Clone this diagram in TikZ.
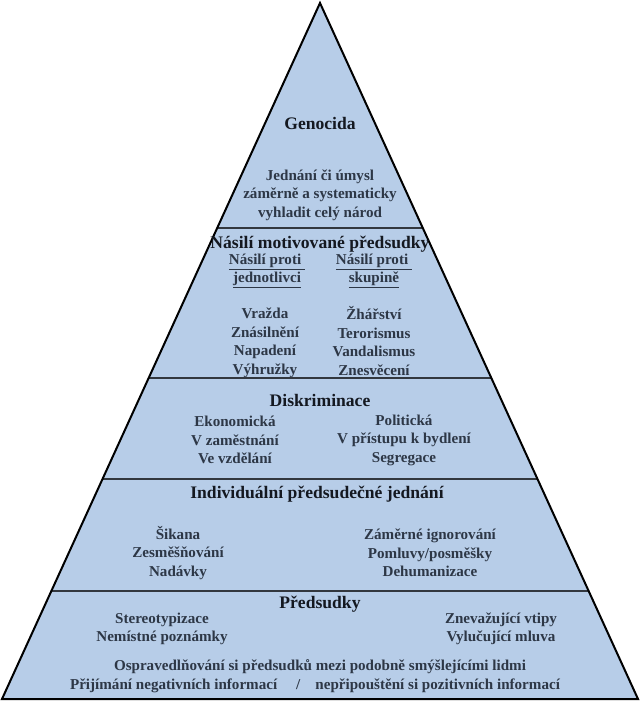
\documentclass[tikz,border=0pt]{standalone}
\usepackage{fontspec}
\setmainfont{Liberation Serif}
\definecolor{pyrfill}{RGB}{183,205,232}
\definecolor{bodytxt}{RGB}{45,55,70}
\definecolor{headtxt}{RGB}{20,24,32}
\definecolor{divline}{RGB}{50,55,62}
\begin{document}
\begin{tikzpicture}[x=1pt,y=-1pt,
  body/.style={font=\bfseries\fontsize{15.1}{18.5}\selectfont,text=bodytxt,align=center,inner sep=0pt},
  head/.style={font=\bfseries\fontsize{17.6}{19}\selectfont,text=headtxt,align=center,inner sep=0pt},
  divider/.style={draw=divline,line width=1.4pt}]
\useasboundingbox (0,0) rectangle (640,713);
\fill[white] (0,0) rectangle (640,713);
% pyramid
\coordinate (apex) at (320,3);
\coordinate (bl) at (2,699);
\coordinate (br) at (638,699);
\fill[pyrfill] (apex) -- (bl) -- (br) -- cycle;
% dividers (x on the edges: x = 320 -/+ 0.4569*(y-3))
\draw[divider] (217.2,228) -- (422.8,228);
\draw[divider] (148.7,378) -- (491.3,378);
\draw[divider] (102.5,479) -- (537.5,479);
\draw[divider] (51.3,591) -- (588.7,591);
\draw[line width=2pt,line join=miter] (apex) -- (bl) -- (br) -- cycle;
% Genocida
\node[head] (gen) at (320,123) {Genocida};
\node[body] (gentxt) at (320,195) {Jednání či úmysl\\záměrně a systematicky\\vyhladit celý národ};
% Nasili
\node[head] (nas) at (320,244) {Násilí motivované předsudky};
\node[body] (nasl) at (267,271) {\underline{Násilí proti }\\\underline{jednotlivci}};
\node[body] (nasr) at (374,271) {\underline{Násilí proti }\\\underline{skupině}};
\node[body] (nasll) at (265,343) {Vražda\\Znásilnění\\Napadení\\Výhružky};
\node[body] (naslr) at (374,341) {Žhářství\\Terorismus\\Vandalismus\\Znesvěcení};
% Diskriminace
\node[head] (dis) at (320,400) {Diskriminace};
\node[body] (disl) at (235,440) {Ekonomická\\V zaměstnání\\Ve vzdělání};
\node[body] (disr) at (404,440) {Politická\\V přístupu k bydlení\\Segregace};
% Individualni
\node[head] (ind) at (317,494) {Individuální předsudečné jednání};
\node[body] (indl) at (178,553) {Šikana\\Zesměšňování\\Nadávky};
\node[body] (indr) at (430,553) {Záměrné ignorování\\Pomluvy/posměšky\\Dehumanizace};
% Predsudky
\node[head] (pre) at (320,604) {Předsudky};
\node[body] (prel) at (162,629) {Stereotypizace\\Nemístné poznámky};
\node[body] (prer) at (501,629) {Znevažující vtipy\\Vylučující mluva};
\node[body] (preb1) at (320,667) {Ospravedlňování si předsudků mezi podobně smýšlejícími lidmi};
\node[body] (preb2) at (315,686) {Přijímání negativních informací \quad/\quad nepřipouštění si pozitivních informací};
\end{tikzpicture}
\end{document}
